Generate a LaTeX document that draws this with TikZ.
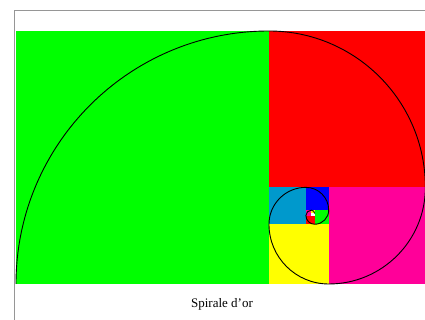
\documentclass[tikz,border=0pt]{standalone}
\usepackage{fontspec}
\setmainfont{Liberation Serif}
\definecolor{cgreen}{RGB}{0,255,0}
\definecolor{cred}{RGB}{255,0,0}
\definecolor{cmag}{RGB}{255,0,153}
\definecolor{cyel}{RGB}{255,255,0}
\definecolor{ccyan}{RGB}{0,153,204}
\definecolor{cblue}{RGB}{0,0,255}
\definecolor{frame}{RGB}{150,150,150}
\begin{document}
\begin{tikzpicture}[x=1pt,y=1pt,
  sq/.style={draw=none},
  spiral/.style={draw=black,line width=0.9pt},
  frameline/.style={draw=frame,line width=1.8pt}]
\useasboundingbox (0,0) rectangle (425,320);
\fill[white] (0,0) rectangle (425,320);
% squares (y up; golden ratio subdivision)
\fill[cgreen] (16,36) rectangle (269,289);
\fill[cred] (269,132.64) rectangle (425.36,289);
\fill[cmag] (328.72,36) rectangle (425.36,132.64);
\fill[cyel] (269,36) rectangle (328.72,95.73);
\fill[ccyan] (269,95.73) rectangle (305.91,132.64);
\fill[cblue] (305.91,109.83) rectangle (328.72,132.64);
\fill[cgreen] (314.62,95.73) rectangle (328.72,109.83);
\fill[cred] (305.91,95.73) rectangle (314.62,104.44);
\fill[cmag] (305.91,104.44) rectangle (311.30,109.83);
\fill[cyel] (311.30,106.50) rectangle (314.62,109.83);
% spiral
\draw[spiral] (16,36)
  arc[start angle=180,end angle=90,radius=253]
  arc[start angle=90,end angle=0,radius=156.36]
  arc[start angle=0,end angle=-90,radius=96.64]
  arc[start angle=-90,end angle=-180,radius=59.73]
  arc[start angle=180,end angle=90,radius=36.91]
  arc[start angle=90,end angle=0,radius=22.81]
  arc[start angle=0,end angle=-90,radius=14.10]
  arc[start angle=-90,end angle=-180,radius=8.71]
  arc[start angle=180,end angle=90,radius=5.39]
  arc[start angle=90,end angle=0,radius=3.33];
% frame
\draw[frameline] (14.5,0) -- (14.5,309.5) -- (425,309.5);
% caption
\node[font=\fontsize{13}{15}\selectfont] (caption) at (222,16) {Spirale d'or};
\end{tikzpicture}
\end{document}
